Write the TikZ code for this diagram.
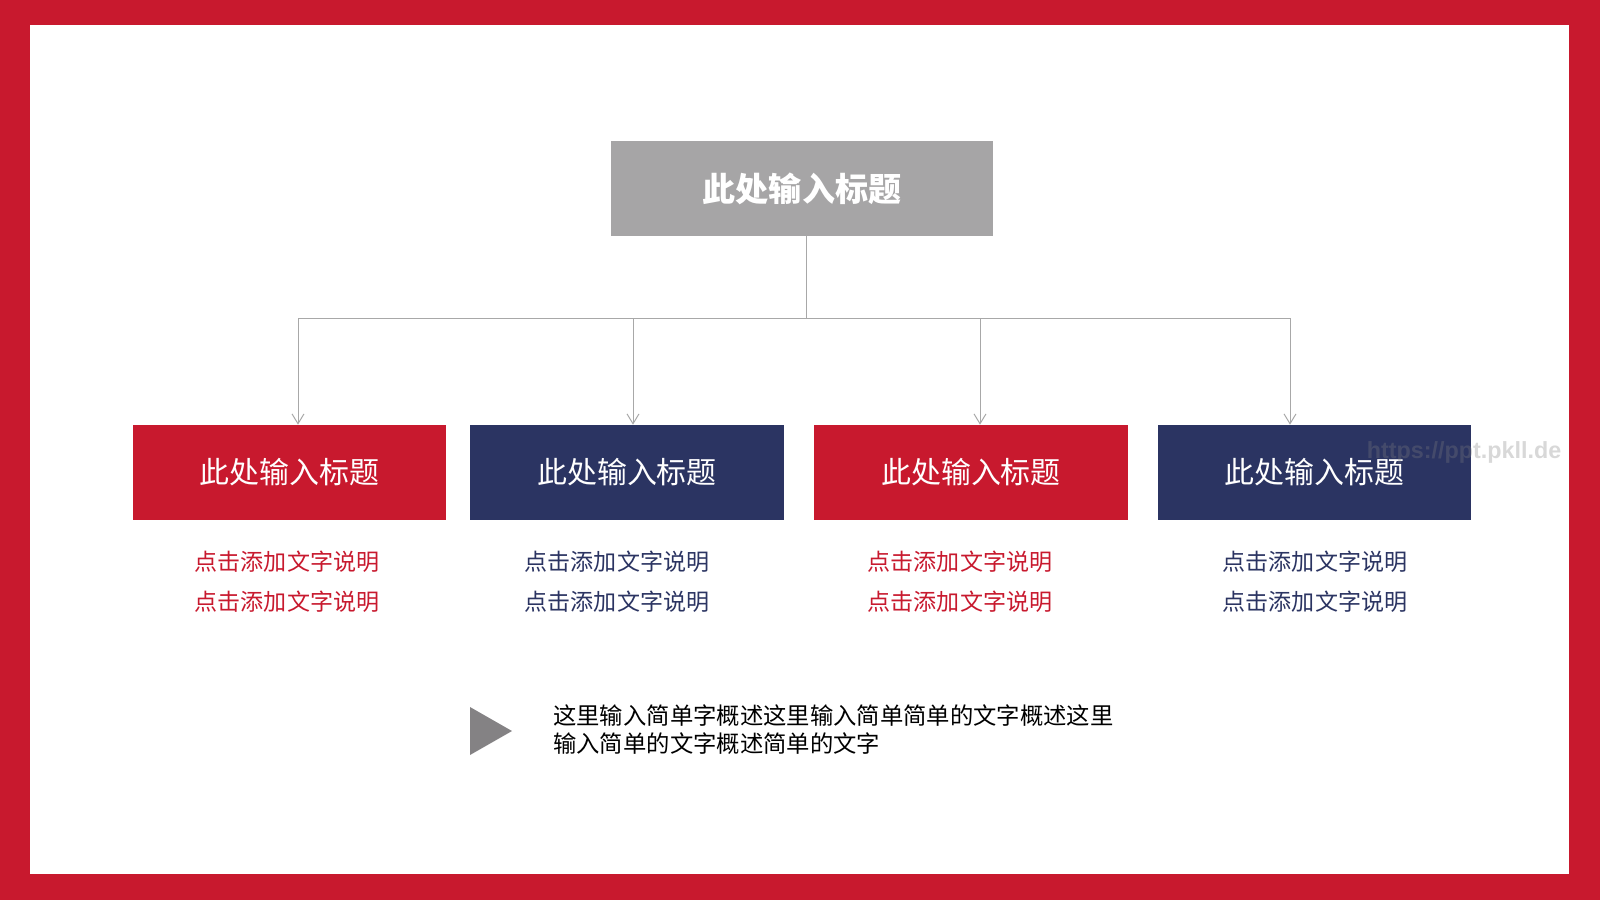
\documentclass[tikz,border=0pt]{standalone}
\usepackage{fontspec}
\newfontfamily\cjk{Noto Sans CJK SC}
\newfontfamily\marksans{Liberation Sans}
\usetikzlibrary{arrows.meta,positioning}
\definecolor{frame red}{HTML}{C8192E}
\definecolor{navy}{HTML}{2B3462}
\definecolor{title gray}{HTML}{A6A5A6}
\definecolor{link gray}{HTML}{A8A8A8}
\definecolor{mark gray}{HTML}{848284}
\tikzset{
	head/.style={fill=title gray, minimum width=9.55cm, minimum height=2.375cm, inner sep=0pt,
		text=white, font=\cjk\bfseries\fontsize{23.5}{26}\selectfont},
	box/.style={fill=#1, minimum width=7.825cm, minimum height=2.375cm, inner sep=0pt,
		text=white, font=\cjk\fontsize{21.3}{24}\selectfont},
	note/.style={text=#1, inner sep=0pt, font=\cjk\fontsize{16.4}{20}\selectfont},
	link/.style={draw=link gray, line width=0.7pt},
}
\begin{document}
\begin{tikzpicture}[x=0.025cm, y=-0.025cm]
	% frame
	\fill[frame red] (0,0) rectangle (1600,900);
	\fill[white] (30,25) rectangle (1569,874);
	\useasboundingbox (0,0) rectangle (1600,900);

	\node[head] (top) at (802,188.5) {此处输入标题};
	\coordinate (hub) at (806,318);

	\def\boxes {b1/289.5/287/298/frame red, b2/627/617/633/navy, b3/971/960/980/frame red, b4/1314.5/1315/1290/navy}  % name/centre/notes/arrow/colour
	\foreach \name\x\nx\ax\col in \boxes
	{	\node[box=\col] (\name) at (\x,472.5) {此处输入标题};
		\node[note=\col] (\name-a) at (\nx,562) {点击添加文字说明};
		\node[note=\col] (\name-b) at (\nx,602) {点击添加文字说明};
		\coordinate (\name-in) at (\ax,318);
		\draw[link, -{Straight Barb[length=7pt, width=8.5pt]}] (\name-in) -- (\name-in |- \name.north);
	}
	\draw[link] (top.south -| hub) -- (hub);
	\draw[link] (b1-in) -- (b4-in);

	% summary
	\fill[mark gray] (470,707) -- (512,731) -- (470,755) -- cycle;
	\node[anchor=west, inner sep=0pt, align=left, font=\cjk\fontsize{16.6}{19.9}\selectfont] (sum) at (553,730)
		{这里输入简单字概述这里输入简单简单的文字概述这里\\输入简单的文字概述简单的文字};

	\node[text=gray, opacity=0.3, font=\marksans\bfseries\fontsize{16.6}{17}\selectfont] (mark) at (1464,452) {https://ppt.pkll.de};
\end{tikzpicture}
\end{document}
